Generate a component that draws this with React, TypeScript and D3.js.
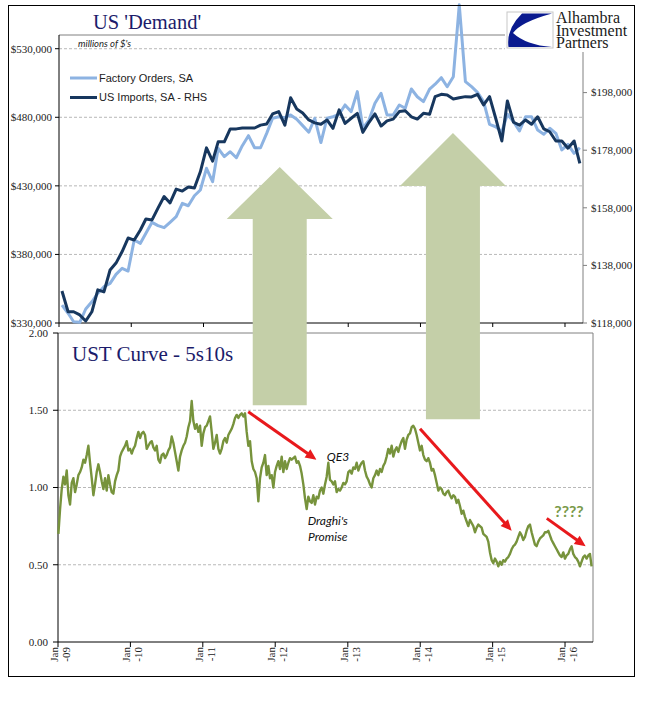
import React from 'react';
import * as d3 from 'd3';

// ---- Top panel: monthly data, Jan-09 .. Mar-16 (millions of $) ----
const factoryOrders = [
  343100, 337100, 330900, 330500, 340200, 345500, 351700, 356500, 358900, 365500, 369900, 367900,
  390500, 388100, 395400, 403400, 401000, 399500, 403400, 407500, 417300, 415500, 422800, 427000,
  442800, 433000, 457400, 451300, 454900, 450500, 459300, 466600, 457800, 457800, 468300, 479300,
  480400, 479700, 481700, 478500, 473900, 469100, 479300, 461600, 479300, 480400, 482200, 489000,
  484100, 498700, 472000, 478000, 490200, 497500, 481700, 481700, 489000, 486600, 500600, 495000,
  491400, 500600, 504100, 508900, 502300, 509600, 562000, 506000, 502300, 498200, 491400, 474900,
  473100, 469500, 482200, 476800, 470000, 480400, 480400, 470700, 467600, 472000, 468300, 456200,
  460300, 453700, 457800,
];
const usImports = [
  129100, 121900, 121900, 120800, 118700, 121900, 129500, 128800, 136400, 138800, 142800, 147500,
  146800, 150300, 154100, 153800, 157900, 161900, 159700, 164500, 163800, 165200, 164900, 170500,
  178800, 174200, 180900, 180900, 185400, 185400, 185700, 185700, 185700, 186700, 187100, 190600,
  191400, 186700, 196200, 192300, 190900, 188500, 187500, 187000, 188500, 185600, 192000, 187300,
  189100, 190800, 184200, 187700, 190600, 186400, 188200, 188800, 191400, 191700, 189600, 188800,
  190800, 190500, 196600, 197400, 197200, 195800, 196200, 196600, 196500, 197400, 193700, 196600,
  189100, 181200, 195100, 187700, 186700, 188500, 187000, 189600, 185400, 184400, 181200, 181200,
  178700, 181200, 173400,
];
const leftTicks = [330000, 380000, 430000, 480000, 530000];
const rightTicks = [118000, 138000, 158000, 178000, 198000];

// ---- Bottom panel: UST 5s10s curve, sampled every ~8.4 days from 3 Jan 2009 ----
const curveValues = [
  0.70, 0.86, 0.99, 1.07, 1.02, 1.11, 0.95, 0.89, 1.03, 1.06,
  0.97, 1.02, 1.08, 1.10, 1.13, 1.18, 1.16, 1.21, 1.27, 1.16,
  1.06, 0.95, 1.02, 1.10, 1.15, 1.10, 1.04, 0.99, 1.06, 0.98,
  1.08, 1.02, 0.97, 0.96, 1.04, 1.08, 1.11, 1.20, 1.23, 1.25,
  1.27, 1.30, 1.24, 1.25, 1.22, 1.25, 1.27, 1.32, 1.36, 1.32,
  1.35, 1.36, 1.34, 1.25, 1.27, 1.29, 1.30, 1.26, 1.24, 1.27,
  1.18, 1.16, 1.21, 1.22, 1.19, 1.21, 1.24, 1.26, 1.33, 1.29,
  1.23, 1.17, 1.11, 1.20, 1.24, 1.27, 1.29, 1.33, 1.39, 1.43,
  1.56, 1.43, 1.38, 1.41, 1.36, 1.40, 1.27, 1.35, 1.39, 1.40,
  1.43, 1.46, 1.36, 1.25, 1.29, 1.34, 1.25, 1.22, 1.25, 1.30,
  1.32, 1.29, 1.34, 1.36, 1.38, 1.41, 1.45, 1.47, 1.45, 1.47,
  1.48, 1.46, 1.48, 1.36, 1.27, 1.30, 1.17, 1.12, 1.10, 1.06,
  0.91, 1.06, 1.13, 1.16, 1.21, 1.08, 1.14, 1.06, 1.08, 1.00,
  1.10, 1.14, 1.17, 1.12, 1.20, 1.10, 1.17, 1.12, 1.16, 1.19,
  1.18, 1.19, 1.20, 1.16, 1.17, 1.14, 1.09, 1.02, 0.93, 0.86,
  0.94, 0.91, 0.90, 0.95, 0.89, 0.94, 0.93, 0.98, 1.00, 0.96,
  1.02,
  1.07, 1.16, 1.05, 1.04, 1.02, 1.04, 0.97, 0.99, 0.98, 1.00,
  1.03, 1.02, 1.04, 1.10, 1.11, 1.09, 1.13, 1.12, 1.16, 1.11,
  1.14, 1.16, 1.17, 1.11, 1.07, 1.05, 1.02, 1.00, 1.06, 1.08,
  1.11, 1.08, 1.12, 1.10, 1.14, 1.16, 1.20, 1.25, 1.22, 1.27,
  1.20, 1.24, 1.26, 1.23, 1.27, 1.30, 1.32, 1.25, 1.31, 1.34,
  1.35, 1.39, 1.40, 1.38, 1.34, 1.29, 1.24, 1.27, 1.21, 1.18,
  1.17, 1.19, 1.16, 1.11, 1.12, 1.08, 1.03, 0.98, 1.00, 0.99,
  0.96, 0.95, 0.97, 0.98, 0.95, 0.93, 0.95, 0.94, 0.90, 0.92,
  0.88, 0.83, 0.85, 0.81, 0.78, 0.75, 0.79, 0.77, 0.75, 0.71,
  0.74, 0.76, 0.75, 0.74, 0.70, 0.69, 0.68, 0.65, 0.58, 0.53,
  0.51, 0.54, 0.52, 0.49, 0.52, 0.50, 0.53, 0.52, 0.54, 0.55,
  0.57, 0.60, 0.62, 0.63, 0.65, 0.68, 0.71, 0.69, 0.66, 0.68,
  0.72, 0.75, 0.76, 0.71, 0.67, 0.63, 0.62, 0.65, 0.67, 0.68,
  0.69, 0.71, 0.71, 0.72, 0.69, 0.66, 0.64, 0.62, 0.60, 0.58,
  0.56, 0.55, 0.58, 0.54, 0.56, 0.57, 0.60, 0.62, 0.57, 0.55,
  0.54, 0.52, 0.49, 0.52, 0.55, 0.56, 0.54, 0.56, 0.57, 0.49,
];
const curveStart = new Date(2009, 0, 3);
const curveStepDays = 8.4;
const bottomTicks = [0, 0.5, 1, 1.5, 2];
const gridBottom = [0.5, 1, 1.5];
const yearTicks = [2009, 2010, 2011, 2012, 2013, 2014, 2015, 2016];

const legendItems = ['Factory Orders, SA', 'US Imports, SA - RHS'];

// annotations in data coordinates
const redArrows = [
  { from: [new Date(2011, 7, 18), 1.49], to: [new Date(2012, 6, 27), 1.18] },
  { from: [new Date(2013, 11, 31), 1.38], to: [new Date(2015, 3, 7), 0.72] },
  { from: [new Date(2015, 9, 1), 0.8], to: [new Date(2016, 3, 14), 0.62] },
];
const greenArrows = [
  { date: new Date(2012, 0, 21), tip: 443800, base: 405800, bottom: 1.533 },
  { date: new Date(2014, 5, 14), tip: 468500, base: 429900, bottom: 1.442 },
];

const serif = '"Liberation Serif", "Times New Roman", serif';
const sans = '"Liberation Sans", Arial, sans-serif';
const cal = 'Lato, "Open Sans", sans-serif';

export default function App() {
  const xTop = d3.scaleTime().domain([new Date(2009, 0, 1), new Date(2016, 3, 1)]).range([59, 583]);
  const yL = d3.scaleLinear().domain([330000, 540000]).range([323, 35]);
  const yR = d3.scaleLinear().domain([118000, 218000]).range([323, 35]);
  const xBot = d3.scaleTime().domain([new Date(2009, 0, 1), new Date(2016, 4, 21)]).range([58, 593]);
  const yB = d3.scaleLinear().domain([0, 2]).range([642, 333]);

  const monthDate = (i: number) => new Date(2009, i, 16);
  const foLine = d3.line<number>().x((_, i) => xTop(monthDate(i))).y((d) => yL(d))(factoryOrders) || '';
  const imLine = d3.line<number>().x((_, i) => xTop(monthDate(i))).y((d) => yR(d))(usImports) || '';
  const curveLine =
    d3
      .line<number>()
      .x((_, i) => xBot(new Date(curveStart.getTime() + i * curveStepDays * 86400000)))
      .y((d) => yB(d))(curveValues) || '';

  const fmt = (v: number) => '$' + d3.format(',')(v);
  const grid = '#a6a6a6';

  return (
    <svg width={651} height={701} style={{ position: 'absolute', left: 0, top: 0, background: '#fff' }}>
      <rect x={0} y={0} width={651} height={701} fill="#fff" />

      {/* ---------- TOP PANEL ---------- */}
      {leftTicks.filter((t) => t > 330000).map((t) => (
        <line key={'gl' + t} x1={59} x2={583} y1={yL(t)} y2={yL(t)} stroke={grid} strokeDasharray="3,2" strokeWidth={0.8} />
      ))}
      <line x1={59} x2={583} y1={35} y2={35} stroke="#808080" strokeWidth={1} />
      <line x1={583} x2={583} y1={35} y2={323} stroke="#808080" strokeWidth={1} />
      <line x1={59} x2={59} y1={35} y2={323} stroke="#000" strokeWidth={1} />
      <line x1={59} x2={583} y1={323} y2={323} stroke="#000" strokeWidth={1} />
      {leftTicks.map((t) => (
        <g key={'lt' + t}>
          <line x1={55} x2={59} y1={yL(t)} y2={yL(t)} stroke="#000" />
          <text x={52} y={yL(t)} dy="0.35em" textAnchor="end" fontFamily={serif} fontSize={11} fill="#222">
            {fmt(t)}
          </text>
        </g>
      ))}
      {rightTicks.map((t) => (
        <g key={'rt' + t}>
          <line x1={583} x2={587} y1={yR(t)} y2={yR(t)} stroke="#808080" />
          <text x={591} y={yR(t)} dy="0.35em" textAnchor="start" fontFamily={serif} fontSize={11} fill="#222">
            {fmt(t)}
          </text>
        </g>
      ))}
      {yearTicks.map((yr) => (
        <line key={'tt' + yr} x1={xTop(new Date(yr, 0, 1))} x2={xTop(new Date(yr, 0, 1))} y1={323} y2={327} stroke="#000" />
      ))}
      <path d={foLine} fill="none" stroke="#8db3e2" strokeWidth={3} strokeLinejoin="round" />
      <path d={imLine} fill="none" stroke="#17375e" strokeWidth={3} strokeLinejoin="round" />

      <text x={147} y={29} textAnchor="middle" fontFamily={serif} fontSize={20.5} fill="#1c1c6b">
        US 'Demand'
      </text>
      <text x={78} y={47} fontFamily={cal} fontStyle="italic" fontSize={9.5} fill="#222">
        millions of $'s
      </text>
      {legendItems.map((lab, i) => (
        <g key={lab}>
          <line x1={70} x2={97} y1={78 + i * 19.5} y2={78 + i * 19.5} stroke={i === 0 ? '#8db3e2' : '#17375e'} strokeWidth={3} />
          <text x={99} y={78 + i * 19.5} dy="0.36em" fontFamily={sans} fontSize={11} fill="#222">
            {lab}
          </text>
        </g>
      ))}

      {/* ---------- BOTTOM PANEL ---------- */}
      {gridBottom.map((t) => (
        <line key={'gb' + t} x1={58} x2={593} y1={yB(t)} y2={yB(t)} stroke={grid} strokeDasharray="3,2" strokeWidth={0.8} />
      ))}
      <line x1={58} x2={593} y1={333} y2={333} stroke="#808080" />
      <line x1={593} x2={593} y1={333} y2={642} stroke="#808080" />
      <line x1={58} x2={58} y1={333} y2={642} stroke="#000" />
      <line x1={58} x2={593} y1={642} y2={642} stroke="#000" />
      {bottomTicks.map((t) => (
        <g key={'bt' + t}>
          <line x1={53} x2={58} y1={yB(t)} y2={yB(t)} stroke="#000" />
          <text x={48} y={yB(t)} dy="0.35em" textAnchor="end" fontFamily={serif} fontSize={11} fill="#222">
            {d3.format('.2f')(t)}
          </text>
        </g>
      ))}
      {yearTicks.map((yr) => {
        const x = xBot(new Date(yr, 0, 1));
        return (
          <g key={'bx' + yr}>
            <line x1={x} x2={x} y1={642} y2={647} stroke="#000" />
            <text transform={`translate(${x},647) rotate(-90)`} textAnchor="end" fontFamily={serif} fontSize={11} fill="#222">
              <tspan x={0} dy={0}>Jan</tspan>
              <tspan x={0} dy={12}>{'-' + String(yr).slice(2)}</tspan>
            </text>
          </g>
        );
      })}
      <path d={curveLine} fill="none" stroke="#77933c" strokeWidth={2.4} strokeLinejoin="round" />
      <text x={72} y={361} fontFamily={serif} fontSize={21} fill="#1c1c6b">
        UST Curve - 5s10s
      </text>

      {/* green arrows */}
      {greenArrows.map((a, i) => {
        const cx = xTop(a.date);
        const tip = yL(a.tip);
        const base = yL(a.base);
        const bot = yB(a.bottom);
        const hh = 53;
        const sh = 27;
        const pts = [
          [cx, tip],
          [cx + hh, base],
          [cx + sh, base],
          [cx + sh, bot],
          [cx - sh, bot],
          [cx - sh, base],
          [cx - hh, base],
        ];
        return <polygon key={'ga' + i} points={pts.map((p) => p.join(',')).join(' ')} fill="#c4cfa8" />;
      })}

      {/* red arrows */}
      {redArrows.map((a, i) => {
        const x1 = xBot(a.from[0] as Date);
        const y1 = yB(a.from[1] as number);
        const x2 = xBot(a.to[0] as Date);
        const y2 = yB(a.to[1] as number);
        const ang = Math.atan2(y2 - y1, x2 - x1);
        const L = 11;
        const Wd = 5;
        const bx = x2 - L * Math.cos(ang);
        const by = y2 - L * Math.sin(ang);
        const px = -Math.sin(ang) * Wd;
        const py = Math.cos(ang) * Wd;
        return (
          <g key={'ra' + i}>
            <line x1={x1} y1={y1} x2={bx + 2 * Math.cos(ang)} y2={by + 2 * Math.sin(ang)} stroke="#e8191c" strokeWidth={3} />
            <polygon points={`${x2},${y2} ${bx + px},${by + py} ${bx - px},${by - py}`} fill="#e8191c" />
          </g>
        );
      })}

      <text x={xBot(new Date(2012, 8, 17))} y={yB(1.17)} fontFamily={cal} fontStyle="italic" fontSize={12} fill="#111">
        QE3
      </text>
      <text x={xBot(new Date(2012, 8, 22))} y={yB(0.757)} textAnchor="middle" fontFamily={cal} fontStyle="italic" fontSize={12} fill="#111">
        Draghi's
      </text>
      <text x={xBot(new Date(2012, 8, 22))} y={yB(0.653)} textAnchor="middle" fontFamily={cal} fontStyle="italic" fontSize={12} fill="#111">
        Promise
      </text>
      <text x={xBot(new Date(2016, 0, 21))} y={yB(0.81)} textAnchor="middle" fontFamily={cal} fontWeight="bold" fontSize={16} fill="#7a9a4a">
        ????
      </text>

      {/* logo */}
      <rect x={505} y={6} width={127} height={46} fill="#fff" />
      <rect x={507} y={12} width={46} height={36} fill="#fff" stroke="#c8c8c8" strokeWidth={1} />
      <path d="M 522 13.5 L 552 13.5 Q 521 22 513 33 Q 526 45 552 47 L 508.5 47 Q 506 29 522 13.5 Z" fill="#0a1a8f" />
      <text fontFamily={serif} fontSize={16} fill="#1a1a1a">
        <tspan x={556} y={23}>Alhambra</tspan>
        <tspan x={556} y={36}>Investment</tspan>
        <tspan x={556} y={48}>Partners</tspan>
      </text>

      {/* outer frame */}
      <rect x={8.5} y={5.5} width={626} height={671} fill="none" stroke="#000" strokeWidth={1} />
    </svg>
  );
}
